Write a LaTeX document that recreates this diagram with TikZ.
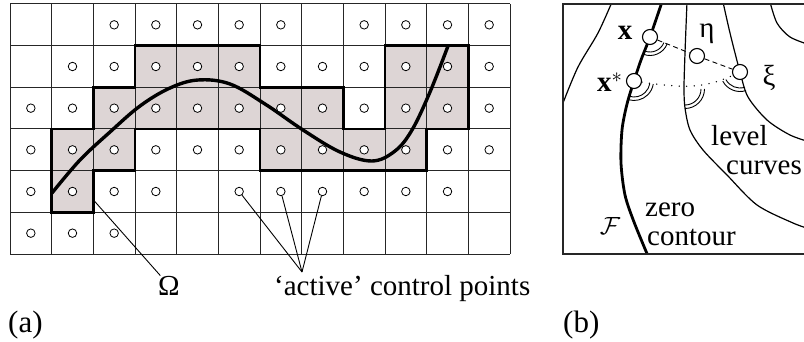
\documentclass[tikz,border=0pt]{standalone}
\usepackage{fontspec}
\setmainfont{Liberation Serif}
\definecolor{shadecol}{RGB}{221,213,213}
\tikzset{
  gridline/.style={line width=1pt, black!85},
  cpt/.style={circle, draw, fill=white, line width=0.8pt, minimum size=8.5pt, inner sep=0pt},
  bigpt/.style={circle, draw, fill=white, line width=1.1pt, minimum size=15pt, inner sep=0pt},
  lbl/.style={font=\fontsize{29}{31}\selectfont, inner sep=0pt},
  panellbl/.style={font=\fontsize{31}{33}\selectfont, inner sep=0pt},
  leader/.style={line width=0.9pt},
  thincurve/.style={line width=1.2pt},
  thickcurve/.style={line width=2.8pt},
  anglearc/.style={line width=0.9pt},
  boundary/.style={line width=2.8pt, line join=miter},
}
\begin{document}
\begin{tikzpicture}[x=1pt,y=-1pt]
\useasboundingbox (0,0) rectangle (804,342);
% ---------------- panel (a)
\begin{scope}[xshift=10pt,yshift=-4pt,x=41.6667pt,y=-41.6667pt]
  \fill[shadecol] (3,1) -- (6,1) -- (6,2) -- (8,2) -- (8,3) -- (9,3) -- (9,1) -- (11,1) -- (11,3)
     -- (10,3) -- (10,4) -- (6,4) -- (6,3) -- (3,3) -- (3,4) -- (2,4) -- (2,5) -- (1,5) -- (1,3)
     -- (2,3) -- (2,2) -- (3,2) -- cycle;
  \foreach \i in {0,...,12} \draw[gridline] (\i,0) -- (\i,6);
  \foreach \j in {0,...,6} \draw[gridline] (0,\j) -- (12,\j);
  \draw[boundary] (3,1) -- (6,1) -- (6,2) -- (8,2) -- (8,3) -- (9,3) -- (9,1) -- (11,1) -- (11,3)
     -- (10,3) -- (10,4) -- (6,4) -- (6,3) -- (3,3) -- (3,4) -- (2,4) -- (2,5) -- (1,5) -- (1,3)
     -- (2,3) -- (2,2) -- (3,2) -- cycle;
  \coordinate (oms) at (2,4.7);
\end{scope}
\draw[line width=3.4pt, line cap=butt] plot[smooth, tension=0.6] coordinates
  {(52,193) (80,160) (110,132) (140,106) (170,88) (198,80) (230,84) (265,104) (303,130)
   (340,152) (372,161) (395,151) (412,130) (430,92) (448,46)};
\begin{scope}[xshift=10pt,yshift=-4pt,x=41.6667pt,y=-41.6667pt]
  \foreach \r/\cl in {0/{2,3,4,5,6,8,9,10,11}, 1/{1,2,3,4,5,6,7,8,9,10,11},
                      2/{0,1,2,3,4,5,6,7,8,9,10,11}, 3/{0,1,2,3,4,5,6,7,8,9,10,11},
                      4/{0,1,2,3,5,6,7,8,9,10}, 5/{0,1,2}}
    \foreach \c in \cl
      \node[cpt] (p-\r-\c) at (\c+0.5,\r+0.5) {};
\end{scope}
\node[lbl, anchor=base] (om) at (169,295) {Ω};
\draw[leader] (oms) -- (om);
\coordinate (act) at (302,272);
\node[lbl, anchor=base west] (actl) at (274,295) {‘active’ control points};
\foreach \c in {5,6,7} \draw[leader] (p-4-\c) -- (act);
\node[panellbl, anchor=base west] (la) at (8,332) {(a)};
% ---------------- panel (b)
\begin{scope}
  \clip (563,4) rectangle (804,254);
  \draw[thincurve] plot[smooth] coordinates {(612,2) (598,33) (578,67) (563,103)};
  \draw[thincurve] plot[smooth] coordinates {(687,2) (685,53) (684,88) (685,108) (690,130)
     (703,150) (727,175) (757,205) (793,223) (810,229)};
  \draw[thincurve] plot[smooth] coordinates {(723,2) (730,33) (740,72) (748,97) (767,120)
     (790,135) (810,142)};
  \draw[thincurve] plot[smooth] coordinates {(770,2) (777,23) (790,37) (810,45)};
  \draw[thickcurve] plot[smooth] coordinates {(662,2) (650,37) (641,60) (634,81) (627,104)
     (622,130) (621,163) (625,195) (634,222) (648,256)};
\end{scope}
\draw[line width=1.1pt, black!85] (812,4) -- (563,4) -- (563,254) -- (812,254);
\node[bigpt] (X) at (650,37) {};
\node[bigpt] (XS) at (634,81) {};
\node[bigpt] (ETA) at (697,56) {};
\node[bigpt] (XI) at (740,72) {};
\draw[line width=0.9pt, dash pattern=on 5pt off 3.5pt] (X) -- (ETA) -- (XI);
\draw[line width=1.5pt, line cap=round, dash pattern=on 0pt off 7.5pt] (XS) to[out=-8,in=205] (XI);
\coordinate (I) at (685,89);
\foreach \rr in {15pt,18.5pt}
  \draw[anglearc] (X.center) ++(-111:\rr) arc[start angle=-111, end angle=-22, radius=\rr];
\foreach \rr in {16pt,19.5pt}
  \draw[anglearc] (XS.center) ++(-106:\rr) arc[start angle=-106, end angle=-9, radius=\rr];
\foreach \rr in {16pt,19.5pt}
  \draw[anglearc] (XI.center) ++(-152:\rr) arc[start angle=-152, end angle=-72, radius=\rr];
\foreach \rr in {16pt,19.5pt}
  \draw[anglearc] (I) ++(-90:\rr) arc[start angle=-90, end angle=0, radius=\rr];
\node[lbl] (xl) at (625,32.5) {\textbf{x}};
\node[lbl, anchor=base west] (xsl) at (597,92) {\textbf{x}$^{*}$};
\node[lbl] (etal) at (707,34) {η};
\node[lbl] (xil) at (769,78) {ξ};
\node[lbl, anchor=base west] (lev) at (711,146) {level};
\node[lbl, anchor=base west] (cur) at (726,175) {curves};
\node[lbl, anchor=base west] (zer) at (645,217) {zero};
\node[lbl, anchor=base west] (con) at (647,245) {contour};
\node[lbl] (F) at (610,226) {$\mathcal{F}$};
\node[panellbl, anchor=base west] (lb) at (563,332) {(b)};
\end{tikzpicture}
\end{document}
